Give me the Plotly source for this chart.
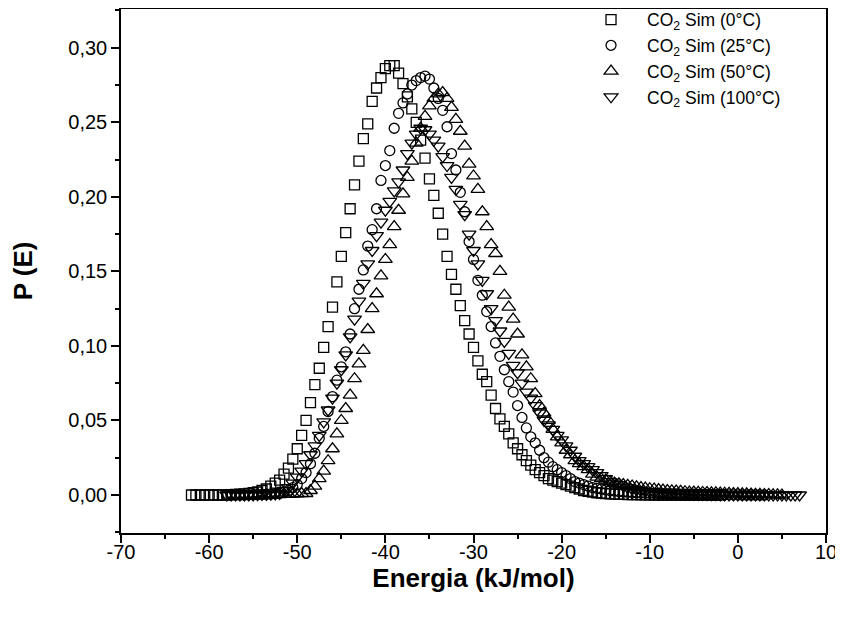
import numpy as np
import plotly.graph_objects as go

# Energy grid step (kJ/mol) and start of each series
STEP = 0.5
x0_sq, x0_ci, x0_tu, x0_td = -62.0, -58.0, -55.0, -58.0

p_0C = [0, 0, 0, 0, 0, 0, 0, 0, 0,
        0.0002, 0.0004, 0.0006, 0.0008, 0.001, 0.0015, 0.002, 0.003, 0.004, 0.006, 0.008, 0.010, 0.014, 0.018, 0.024, 0.031,
        0.040, 0.050, 0.062, 0.074, 0.085, 0.099, 0.113, 0.126, 0.143, 0.160, 0.176, 0.192, 0.208, 0.224, 0.239, 0.249, 0.264, 0.273, 0.280, 0.286,
        0.288, 0.288, 0.283, 0.276, 0.267, 0.259, 0.250, 0.238, 0.226, 0.212, 0.201, 0.189, 0.175, 0.160, 0.148, 0.138, 0.127, 0.117, 0.108, 0.099,
        0.090, 0.081, 0.076, 0.067, 0.058, 0.051, 0.046, 0.041, 0.035, 0.031, 0.027, 0.023, 0.020, 0.017, 0.015, 0.013, 0.011, 0.010, 0.009, 0.008,
        0.007, 0.006, 0.005, 0.004, 0.003, 0.0025, 0.002, 0.0015, 0.0012, 0.001, 0.0008, 0.0006, 0.0005, 0.0004, 0.0003, 0.0002, 0.0002, 0.0001, 0.0001, 0.0001,
        0, 0, 0, 0, 0, 0, 0, 0, 0, 0, 0, 0, 0, 0, 0, 0]

p_25C = [0, 0, 0, 0, 0, 0.0001, 0.0002, 0.0003, 0.0004, 0.0005, 0.0007, 0.0009, 0.0012,
         0.002, 0.003, 0.005, 0.007, 0.011, 0.015, 0.021, 0.028, 0.038, 0.046, 0.056, 0.066, 0.077, 0.086, 0.096, 0.108, 0.125, 0.138, 0.151, 0.167,
         0.178, 0.192, 0.211, 0.221, 0.231, 0.246, 0.256, 0.263, 0.269, 0.275, 0.278, 0.280, 0.281, 0.279, 0.273, 0.266, 0.258, 0.247, 0.229, 0.218,
         0.203, 0.190, 0.170, 0.158, 0.144, 0.134, 0.123, 0.113, 0.102, 0.093, 0.084, 0.076, 0.069, 0.060, 0.052, 0.045, 0.039, 0.035, 0.030, 0.025,
         0.022, 0.019, 0.017, 0.015, 0.013, 0.011, 0.009, 0.008, 0.007, 0.006, 0.005, 0.0045, 0.004, 0.0035, 0.003, 0.0027, 0.0024, 0.0021, 0.0019, 0.0017,
         0.0015, 0.0014, 0.0013, 0.0012, 0.0011, 0.001, 0.0009, 0.0008, 0.0008, 0.0007, 0.0006, 0.0006, 0.0005, 0.0005, 0.0004, 0.0004, 0.0003, 0.0003, 0.0002, 0.0002,
         0.0002, 0.0001, 0.0001, 0.0001, 0, 0, 0, 0, 0, 0]

p_50C = [0, 0, 0, 0, 0.0001, 0.0002, 0.0003, 0.0004, 0.0005, 0.0006, 0.0008, 0.0009, 0.001,
         0.003, 0.006, 0.011, 0.016, 0.023, 0.031, 0.041, 0.050, 0.058, 0.067, 0.078, 0.088, 0.097, 0.111, 0.125, 0.135, 0.147, 0.158, 0.168, 0.180,
         0.191, 0.202, 0.213, 0.224, 0.236, 0.246, 0.254, 0.261, 0.266, 0.269, 0.270, 0.266, 0.260, 0.252, 0.244, 0.234, 0.222, 0.214, 0.205, 0.190,
         0.180, 0.168, 0.162, 0.150, 0.134, 0.126, 0.118, 0.108, 0.094, 0.086, 0.078, 0.068, 0.060, 0.055, 0.050, 0.044, 0.039, 0.035, 0.030, 0.027,
         0.023, 0.021, 0.019, 0.017, 0.014, 0.012, 0.011, 0.010, 0.009, 0.008, 0.0075, 0.007, 0.0065, 0.006, 0.0055, 0.005, 0.0046, 0.0042, 0.0039, 0.0036,
         0.0033, 0.003, 0.0028, 0.0026, 0.0024, 0.0022, 0.002, 0.0019, 0.0018, 0.0017, 0.0016, 0.0015, 0.0014, 0.0013, 0.0012, 0.0011, 0.001, 0.0009, 0.0008, 0.0007,
         0.0006, 0.0005, 0.0004, 0.0003, 0.0002, 0.0001, 0.0001, 0]

p_100C = [0, 0, 0, 0, 0, 0, 0.0001, 0.0002, 0.0003, 0.0004, 0.0005, 0.0007, 0.001,
          0.003, 0.005, 0.008, 0.012, 0.016, 0.021, 0.027, 0.033, 0.040, 0.049, 0.057, 0.065, 0.075, 0.084, 0.094, 0.106, 0.118, 0.130, 0.142, 0.155,
          0.164, 0.174, 0.183, 0.191, 0.197, 0.204, 0.210, 0.218, 0.229, 0.236, 0.242, 0.246, 0.245, 0.242, 0.238, 0.234, 0.227, 0.221, 0.213, 0.205,
          0.195, 0.188, 0.175, 0.164, 0.155, 0.144, 0.135, 0.125, 0.117, 0.110, 0.103, 0.095, 0.087, 0.082, 0.075, 0.069, 0.065, 0.060, 0.055, 0.050,
          0.047, 0.044, 0.040, 0.037, 0.033, 0.030, 0.026, 0.023, 0.021, 0.019, 0.017, 0.015, 0.013, 0.011, 0.009, 0.008, 0.007, 0.006, 0.005, 0.004,
          0.0035, 0.003, 0.0026, 0.0022, 0.0019, 0.0016, 0.0014, 0.0012, 0.001, 0.0009, 0.0008, 0.0007, 0.0006, 0.0005, 0.0004, 0.0003, 0.0003, 0.0002, 0.0002, 0.0001,
          0.0001, 0.0001, 0, 0, 0, 0, 0, 0, 0, 0, 0, 0, 0, 0, 0, 0, 0, 0]

x_tick_vals = [-70, -60, -50, -40, -30, -20, -10, 0, 10]
x_tick_text = ["-70", "-60", "-50", "-40", "-30", "-20", "-10", "0", "10"]

series = [
    ("CO<sub>2</sub> Sim (0°C)", x0_sq, p_0C, "square-open", 10),
    ("CO<sub>2</sub> Sim (25°C)", x0_ci, p_25C, "circle-open", 10),
    ("CO<sub>2</sub> Sim (50°C)", x0_tu, p_50C, "triangle-up-open", 12),
    ("CO<sub>2</sub> Sim (100°C)", x0_td, p_100C, "triangle-down-open", 12),
]

FONT = "Liberation Sans, Arial, sans-serif"
fig = go.Figure()
for name, x0, ys, sym, sz in series:
    xs = np.round(x0 + STEP * np.arange(len(ys)), 2)
    fig.add_trace(go.Scatter(
        x=xs, y=ys, mode="markers", name=name,
        marker=dict(symbol=sym, size=sz, color="black", line=dict(color="black", width=1.3)),
    ))

axis_common = dict(
    showline=True, linecolor="black", linewidth=1.5, mirror=True,
    ticks="outside", ticklen=8, tickwidth=1.5, tickcolor="black",
    showgrid=False, zeroline=False, automargin=False,
    tickfont=dict(family=FONT, size=20, color="black"),
)

# page body adds an 8px margin, so the figure is 8px smaller than the window
fig.update_layout(
    width=835, height=613,
    margin=dict(l=113, r=17, t=1, b=88, autoexpand=False),
    paper_bgcolor="white", plot_bgcolor="white",
    separators=",.",
    showlegend=True,
    legend=dict(x=0.644, y=1.014, xanchor="left", yanchor="top", itemwidth=62,
                font=dict(family=FONT, size=17.5, color="black"),
                bgcolor="rgba(0,0,0,0)", borderwidth=0, tracegroupgap=0),
    xaxis=dict(range=[-70, 10], tickvals=x_tick_vals, ticktext=x_tick_text,
               ticklabelstandoff=-8,
               minor=dict(dtick=5, tick0=0, ticklen=4, tickwidth=1.5, tickcolor="black", ticks="outside"),
               title=dict(text="<b>Energia (kJ/mol)</b>", font=dict(family=FONT, size=26, color="black"), standoff=6),
               **axis_common),
    yaxis=dict(range=[-0.0255, 0.326], dtick=0.05, tick0=0, tickformat=".2f",
               minor=dict(dtick=0.025, ticklen=4, tickwidth=1.5, tickcolor="black", ticks="outside"),
               title=dict(text="<b>P (E)</b>", font=dict(family=FONT, size=26, color="black"), standoff=34),
               **axis_common),
)

fig.write_html("out.html")
